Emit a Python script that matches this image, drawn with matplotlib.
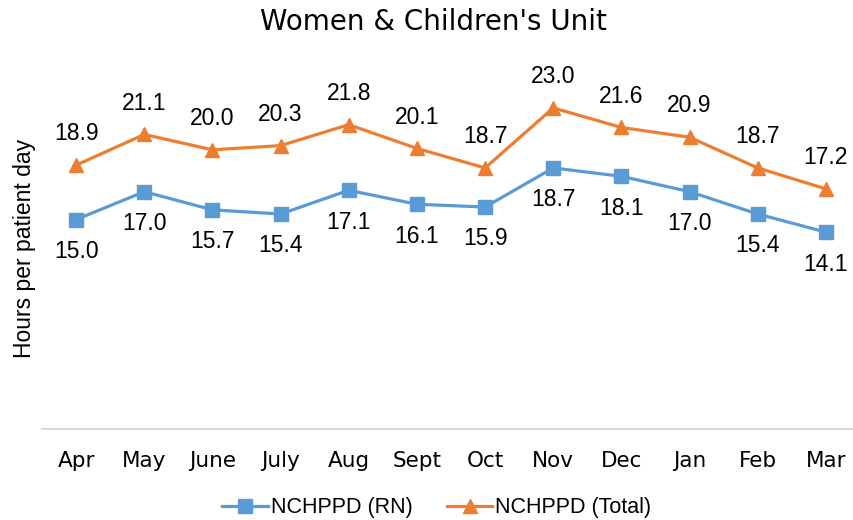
import matplotlib
matplotlib.use("Agg")
import matplotlib.pyplot as plt

months = ["Apr", "May", "June", "July", "Aug", "Sept", "Oct", "Nov", "Dec", "Jan", "Feb", "Mar"]
rn = [15.0, 17.0, 15.7, 15.4, 17.1, 16.1, 15.9, 18.7, 18.1, 17.0, 15.4, 14.1]
total = [18.9, 21.1, 20.0, 20.3, 21.8, 20.1, 18.7, 23.0, 21.6, 20.9, 18.7, 17.2]

plt.rcParams['font.family'] = ['Liberation Sans', 'DejaVu Sans']

W, H = 854, 520
fig = plt.figure(figsize=(W / 100, H / 100), dpi=100)
left, right, top, bottom = 42, 860, 80, 429
ax = fig.add_axes([left / W, 1 - bottom / H, (right - left) / W, (bottom - top) / H])

blue = "#5B9BD5"
orange = "#ED7D31"
x = list(range(len(months)))
ax.plot(x, rn, color=blue, lw=2.3, marker="s", ms=10, label="NCHPPD (RN)")
ax.plot(x, total, color=orange, lw=2.3, marker="^", ms=10, label="NCHPPD (Total)")

for xi, v in zip(x, rn):
    ax.annotate(f"{v:.1f}", (xi, v), xytext=(0, -23), textcoords="offset points",
                ha="center", va="center", fontsize=16.5, color="#000000")
for xi, v in zip(x, total):
    ax.annotate(f"{v:.1f}", (xi, v), xytext=(0, 22.5), textcoords="offset points",
                ha="center", va="center", fontsize=16.5, color="#000000")

ax.set_xlim(-0.5, 11.5)
ax.set_ylim(0, 25)
ax.set_yticks([])
ax.set_xticks(x)
ax.set_xticklabels(months, fontsize=15.5, family=['DejaVu Sans'])
ax.tick_params(axis="x", length=0, pad=16)
for s in ["top", "right", "left"]:
    ax.spines[s].set_visible(False)
ax.spines["bottom"].set_color("#D9D9D9")
ax.spines["bottom"].set_linewidth(1.5)

fig.text(25 / W, 1 - 248 / H, "Hours per patient day", rotation=90, ha="center", va="center", fontsize=16.5)
fig.text(433 / W, 1 - 22 / H, "Women & Children's Unit", ha="center", va="center", fontsize=20,
         family=['DejaVu Sans'])

fig.legend(loc="center", bbox_to_anchor=(437 / W, 1 - 508 / H), ncol=2, frameon=False,
           fontsize=15.5, handlelength=2.1, columnspacing=1.6, handletextpad=0.15)

fig.savefig("out.png", dpi=100)
